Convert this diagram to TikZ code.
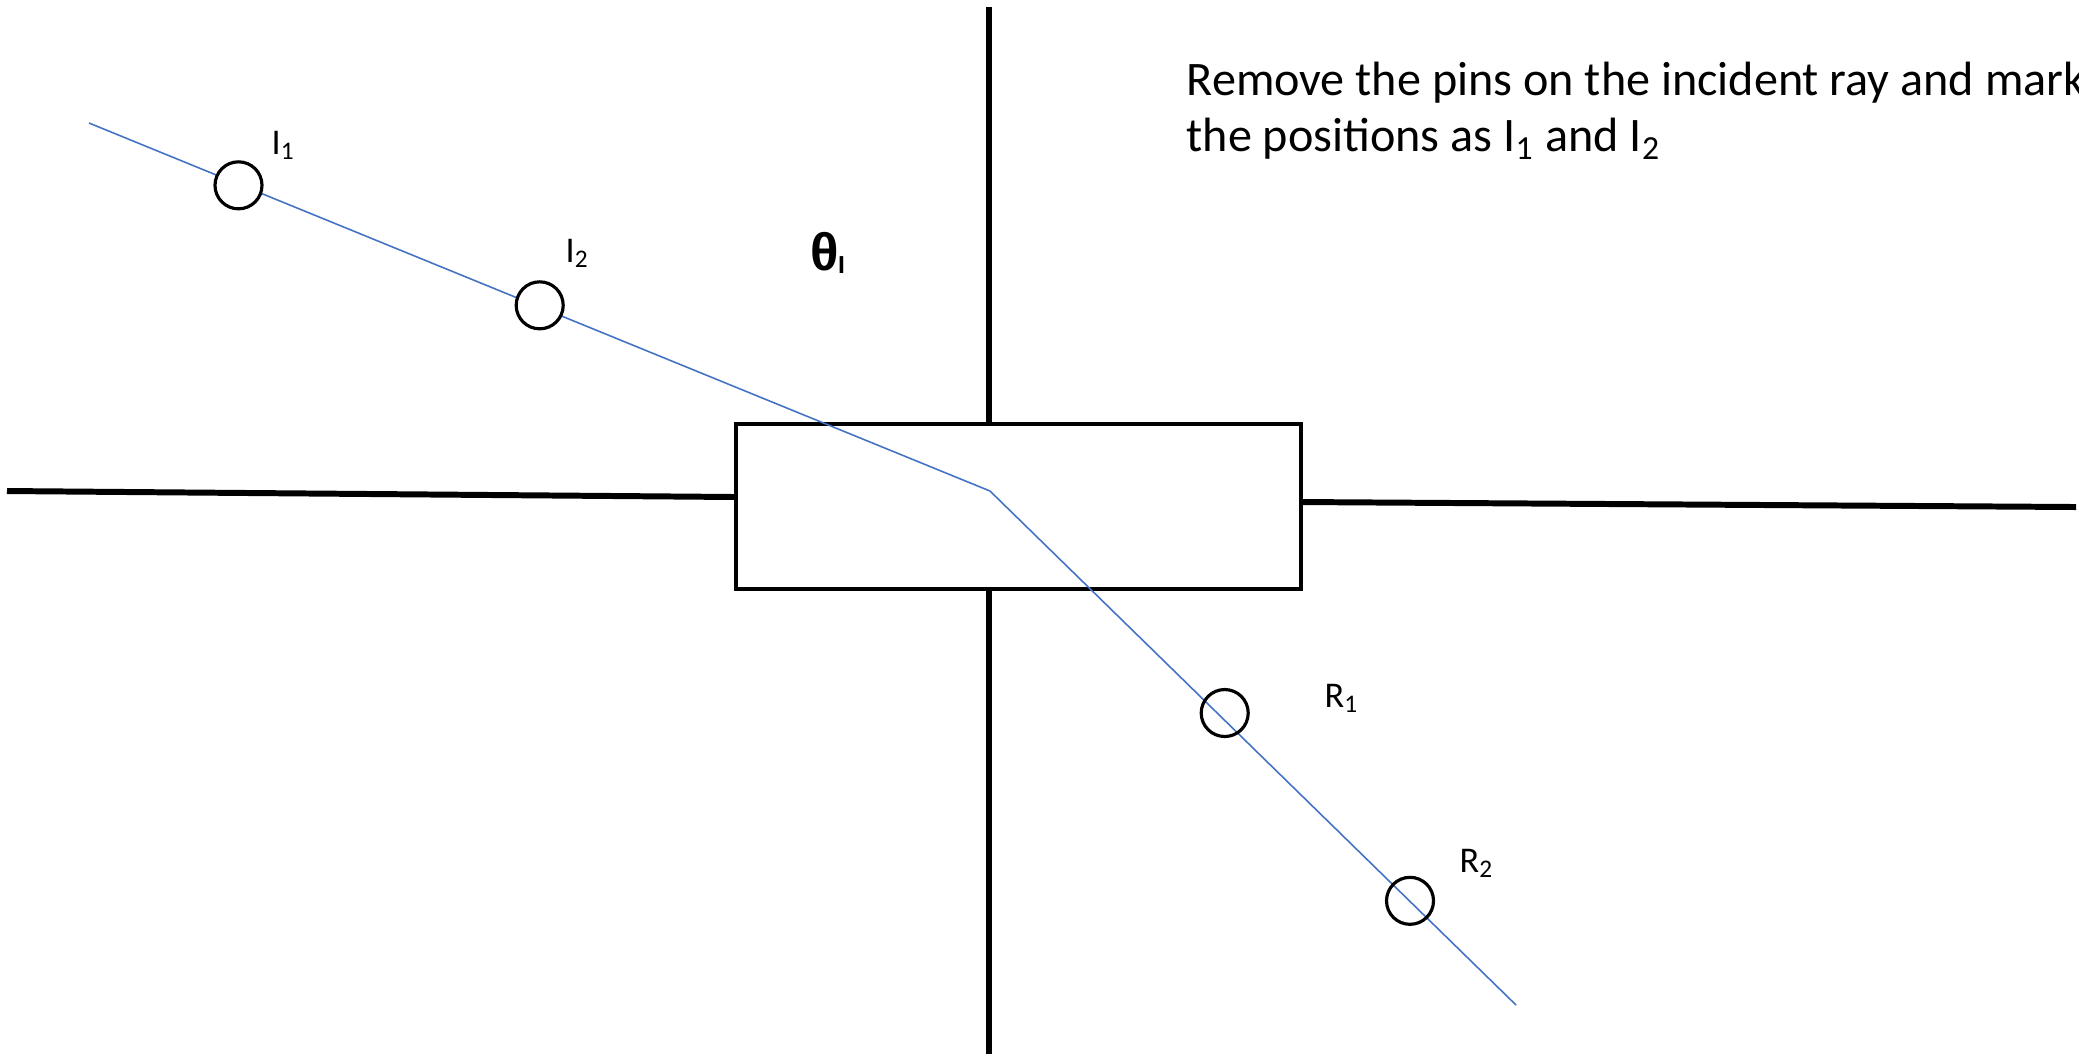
\documentclass[tikz,border=0pt]{standalone}
\usepackage{fontspec}
\setmainfont{Carlito}
\newfontfamily\greekfont{Liberation Sans}
\usepackage{tikz}
\usetikzlibrary{positioning}
\definecolor{raycol}{HTML}{4472C4}

\begin{document}
\begin{tikzpicture}[
  surface/.style={line width=1.7pt},
  block/.style={draw, line width=1pt, minimum width=5.65cm, minimum height=1.65cm, inner sep=0pt},
  ray/.style={draw=raycol, line width=0.45pt},
  pinmark/.style={draw, circle, line width=0.9pt, minimum size=0.47cm, inner sep=0pt},
  lbl/.style={font=\fontsize{10.3}{12}\selectfont, inner sep=0pt, anchor=base west},
  note/.style={font=\fontsize{13.7}{16}\selectfont, inner sep=0pt, anchor=base west}
]
\path[use as bounding box, clip] (0,0) rectangle (20.79,-10.58);

% Glass block
\node[block] (block) at (10.185,-5.065) {};

% Surface lines and normal
\coordinate (sl) at (0.07,-4.91);
\coordinate (slend) at (7.36,-4.97);
\coordinate (sr) at (13.01,-5.02);
\coordinate (srend) at (20.76,-5.07);
\coordinate (ntop) at (9.89,-0.07);
\coordinate (nbot) at (9.89,-10.54);
\draw[surface] (sl) -- (slend);
\draw[surface] (sr) -- (srend);
\draw[surface] (ntop) -- (ntop |- block.north);
\draw[surface] (nbot |- block.south) -- (nbot);

% Ray
\coordinate (src) at (0.89,-1.23);
\coordinate (kink) at (9.90,-4.91);
\coordinate (dst) at (15.16,-10.05);
\draw[ray] (src) -- (kink) -- (dst);

% Pins
\node[pinmark, fill=white] (i1) at (2.385,-1.853) {};
\node[pinmark, fill=white] (i2) at (5.397,-3.053) {};
\node[pinmark] (r1) at (12.247,-7.13) {};
\node[pinmark] (r2) at (14.10,-9.008) {};

% Labels
\node[lbl] (li1) at (2.71,-1.54) {I\textsubscript{1}};
\node[lbl] (li2) at (5.65,-2.62) {I\textsubscript{2}};
\node[lbl] (lr1) at (13.24,-7.07) {R\textsubscript{1}};
\node[lbl] (lr2) at (14.59,-8.72) {R\textsubscript{2}};
\node[anchor=base west, inner sep=0pt, font=\greekfont\bfseries\fontsize{15}{17}\selectfont] (theta) at (8.10,-2.70) {θ\kern-0.02em\raisebox{-0.9pt}{\fontsize{7}{8}\selectfont I}};

% Instruction
\node[note] (note1) at (11.86,-0.95) {Remove the pins on the incident ray and mark};
\node[note] (note2) at ([yshift=-0.567cm]note1.base west) {the positions as I\textsubscript{1} and I\textsubscript{2}};

\end{tikzpicture}
\end{document}
